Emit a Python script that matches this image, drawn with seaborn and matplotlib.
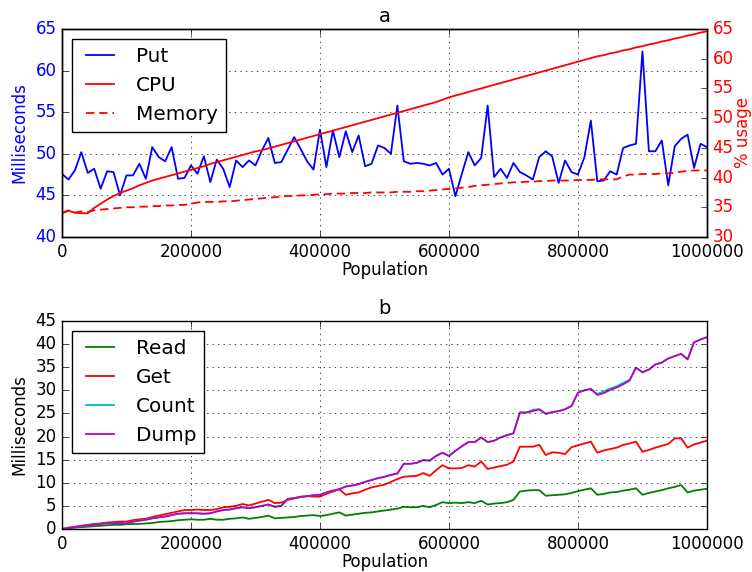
import numpy as np
import pandas as pd
import matplotlib
matplotlib.use("Agg")
import matplotlib.pyplot as plt
import seaborn as sns

plt.style.use("classic")
plt.rcParams["figure.facecolor"] = "white"
plt.rcParams["savefig.facecolor"] = "white"
plt.rcParams["font.family"] = ["DejaVu Sans"]

population = list(range(0, 1000001, 10000))

put_ms = [47.6, 46.9, 48.0, 50.2, 47.7, 48.2, 45.8, 47.9, 47.8, 45.0,
          47.4, 47.4, 48.8, 47.0, 50.8, 49.6, 49.1, 50.8, 47.0, 47.1,
          48.6, 47.6, 49.7, 46.6, 49.3, 48.2, 46.0, 49.2, 48.4, 49.2,
          48.6, 50.4, 51.9, 48.9, 49.0, 50.5, 52.0, 50.6, 49.1, 48.1,
          52.9, 48.4, 52.8, 49.6, 52.7, 50.2, 52.2, 48.5, 48.8, 51.0,
          50.7, 50.0, 55.8, 49.1, 48.8, 48.9, 48.8, 48.6, 48.9, 47.5,
          48.2, 44.9, 47.6, 50.2, 48.6, 49.5, 55.8, 47.2, 48.2, 47.1,
          48.9, 47.8, 47.4, 46.9, 49.6, 50.3, 49.7, 46.5, 49.2, 47.8,
          47.5, 49.6, 54.0, 46.7, 46.8, 47.9, 47.5, 50.7, 51.0, 51.2,
          62.3, 50.3, 50.3, 51.6, 46.2, 50.9, 51.8, 52.3, 48.3, 51.2,
          50.8]

cpu_pct = [34.0, 34.4, 34.1, 34.0, 34.0, 34.9, 35.6, 36.3, 36.9, 37.4,
           37.8, 38.2, 38.7, 39.1, 39.5, 39.8, 40.1, 40.4, 40.7, 41.0,
           41.3, 41.6, 41.9, 42.3, 42.6, 42.9, 43.2, 43.5, 43.8, 44.1,
           44.4, 44.6, 44.9, 45.2, 45.5, 45.8, 46.1, 46.4, 46.7, 47.0,
           47.3, 47.6, 47.9, 48.2, 48.5, 48.8, 49.1, 49.4, 49.7, 50.0,
           50.3, 50.6, 50.9, 51.2, 51.5, 51.8, 52.1, 52.4, 52.7, 53.1,
           53.5, 53.8, 54.1, 54.4, 54.7, 55.0, 55.3, 55.6, 55.9, 56.2,
           56.5, 56.8, 57.1, 57.4, 57.7, 58.0, 58.3, 58.6, 58.9, 59.2,
           59.5, 59.8, 60.1, 60.4, 60.6, 60.9, 61.1, 61.4, 61.6, 61.9,
           62.1, 62.4, 62.6, 62.9, 63.1, 63.4, 63.6, 63.9, 64.1, 64.4,
           64.6]

memory_pct = [34.0, 34.5, 34.1, 34.3, 34.2, 34.5, 34.6, 34.7, 34.8, 34.9,
              35.0, 35.0, 35.1, 35.1, 35.2, 35.2, 35.3, 35.3, 35.4, 35.4,
              35.6, 35.8, 35.9, 35.9, 35.9, 36.0, 36.0, 36.1, 36.2, 36.3,
              36.4, 36.5, 36.6, 36.7, 36.8, 36.9, 36.9, 37.0, 37.0, 37.1,
              37.2, 37.2, 37.3, 37.3, 37.3, 37.4, 37.4, 37.4, 37.5, 37.5,
              37.5, 37.5, 37.6, 37.6, 37.6, 37.7, 37.7, 37.8, 37.9, 38.0,
              38.1, 38.2, 38.3, 38.4, 38.6, 38.7, 38.8, 38.9, 39.0, 39.1,
              39.2, 39.2, 39.3, 39.3, 39.4, 39.4, 39.5, 39.5, 39.5, 39.5,
              39.6, 39.6, 39.6, 39.7, 39.7, 39.7, 39.7, 40.2, 40.5, 40.5,
              40.6, 40.6, 40.6, 40.7, 40.7, 40.8, 41.0, 41.1, 41.2, 41.2,
              41.2]

read_ms = [0.0, 0.1, 0.3, 0.4, 0.5, 0.6, 0.7, 0.8, 0.9, 0.9,
           1.0, 1.1, 1.1, 1.2, 1.3, 1.5, 1.6, 1.7, 1.9, 2.0,
           2.1, 2.0, 2.0, 2.2, 2.0, 2.0, 2.2, 2.3, 2.5, 2.2,
           2.4, 2.6, 2.9, 2.3, 2.4, 2.5, 2.6, 2.8, 2.9, 3.0,
           2.8, 3.0, 3.3, 3.6, 2.9, 3.1, 3.3, 3.5, 3.6, 3.8,
           4.0, 4.2, 4.4, 4.8, 4.7, 4.7, 5.0, 4.7, 5.2, 5.8,
           5.6, 5.7, 5.6, 5.8, 5.6, 6.1, 5.3, 5.5, 5.6, 5.8,
           6.3, 8.1, 8.3, 8.4, 8.4, 7.2, 7.3, 7.4, 7.5, 7.8,
           8.2, 8.5, 8.8, 7.4, 7.6, 7.9, 8.0, 8.3, 8.5, 8.8,
           7.4, 7.8, 8.1, 8.4, 8.8, 9.1, 9.5, 7.9, 8.3, 8.5,
           8.7]

get_ms = [0.0, 0.3, 0.5, 0.7, 0.9, 1.1, 1.2, 1.4, 1.5, 1.6,
          1.6, 1.9, 2.1, 2.2, 2.6, 2.9, 3.2, 3.5, 3.8, 4.1,
          4.1, 4.2, 4.1, 4.1, 4.3, 4.7, 4.8, 5.0, 5.4, 5.1,
          5.5, 5.9, 6.3, 5.6, 5.7, 6.3, 6.6, 7.0, 7.1, 7.0,
          7.0, 7.6, 8.1, 8.6, 7.4, 7.7, 7.9, 8.5, 9.0, 9.3,
          9.6, 10.2, 10.8, 11.3, 11.4, 11.5, 12.1, 11.5, 12.7, 13.8,
          13.1, 13.1, 13.2, 13.8, 13.5, 14.6, 13.0, 13.3, 13.6, 13.9,
          14.6, 17.8, 17.8, 17.8, 18.2, 16.0, 16.6, 16.5, 16.2, 17.7,
          18.1, 18.5, 18.9, 16.5, 17.0, 17.3, 17.6, 18.2, 18.5, 18.9,
          16.7, 17.1, 17.6, 18.0, 18.4, 19.6, 19.6, 17.6, 18.3, 18.7,
          19.1]

count_ms = [0.0, 0.2, 0.4, 0.6, 0.8, 0.9, 1.1, 1.2, 1.3, 1.3,
            1.2, 1.6, 1.8, 2.0, 2.3, 2.5, 2.7, 3.0, 3.3, 3.4,
            3.4, 3.4, 3.3, 3.4, 3.8, 4.1, 4.2, 4.5, 4.7, 4.5,
            4.7, 5.0, 5.3, 4.8, 5.0, 6.5, 6.7, 6.9, 7.1, 7.3,
            7.4, 7.9, 8.3, 8.6, 9.2, 9.4, 9.7, 10.2, 10.6, 11.0,
            11.3, 11.7, 12.0, 14.1, 14.1, 14.3, 14.9, 14.8, 15.8, 16.5,
            15.8, 16.9, 17.9, 18.8, 18.8, 19.8, 18.8, 19.1, 19.8, 20.3,
            20.7, 25.2, 25.2, 25.8, 25.9, 24.9, 25.3, 25.5, 25.9, 26.6,
            29.5, 30.0, 30.3, 29.2, 29.8, 30.4, 30.9, 31.6, 32.3, 34.9,
            33.9, 34.5, 35.6, 36.0, 36.9, 37.4, 37.9, 36.7, 40.4, 41.0,
            41.5]

dump_ms = [0.0, 0.2, 0.4, 0.6, 0.8, 0.9, 1.1, 1.2, 1.3, 1.3,
           1.2, 1.6, 1.8, 2.0, 2.3, 2.5, 2.7, 3.0, 3.3, 3.4,
           3.4, 3.4, 3.3, 3.4, 3.8, 4.1, 4.2, 4.5, 4.7, 4.5,
           4.7, 5.0, 5.3, 4.8, 5.0, 6.5, 6.7, 6.9, 7.1, 7.3,
           7.4, 7.9, 8.3, 8.6, 9.2, 9.4, 9.7, 10.2, 10.6, 11.0,
           11.3, 11.7, 12.0, 14.1, 14.1, 14.3, 14.9, 14.8, 15.8, 16.5,
           15.8, 16.9, 17.9, 18.8, 18.8, 19.8, 18.8, 19.1, 19.8, 20.3,
           20.7, 25.2, 25.2, 25.5, 25.9, 24.9, 25.3, 25.5, 25.9, 26.6,
           29.5, 30.0, 30.3, 29.0, 29.4, 30.1, 30.6, 31.3, 32.1, 34.9,
           33.9, 34.5, 35.6, 36.0, 36.9, 37.4, 37.9, 36.7, 40.4, 41.0,
           41.5]

x_ticks = [0, 200000, 400000, 600000, 800000, 1000000]

df = pd.DataFrame({"Population": population, "Put": put_ms, "CPU": cpu_pct,
                   "Memory": memory_pct, "Read": read_ms, "Get": get_ms,
                   "Count": count_ms, "Dump": dump_ms})

LW = 1.3
fig = plt.figure(figsize=(7.52, 5.72), dpi=100)
ax1 = fig.add_axes([0.0824, 0.5857, 0.8577, 0.3636])
ax3 = fig.add_axes([0.0824, 0.0752, 0.8577, 0.3636])

# --- top panel ---
sns.lineplot(data=df, x="Population", y="Put", ax=ax1, color="b", lw=LW, label="Put", legend=False)
ax2 = ax1.twinx()
sns.lineplot(data=df, x="Population", y="CPU", ax=ax2, color="r", lw=LW, label="CPU", legend=False)
sns.lineplot(data=df, x="Population", y="Memory", ax=ax2, color="r", lw=LW,
             linestyle=(0, (6, 3.5)), label="Memory", legend=False)

ax1.set_xlim(0, 1000000)
ax1.set_ylim(40, 65)
ax2.set_ylim(30, 65)
ax1.set_xticks(x_ticks)
ax1.ticklabel_format(axis="x", style="plain", useOffset=False)
ax1.set_ylabel("Milliseconds", color="b")
ax2.set_ylabel("% usage", color="r", labelpad=0)
ax1.tick_params(axis="y", colors="k", labelcolor="b")
ax2.tick_params(axis="y", labelcolor="r")
ax1.set_xlabel("Population", labelpad=0)
ax1.set_title("a", fontsize=14)
ax1.grid(True, color="k", linestyle=":", linewidth=0.5)
h1, l1 = ax1.get_legend_handles_labels()
h2, l2 = ax2.get_legend_handles_labels()
leg = ax2.legend(h1 + h2, l1 + l2, loc="upper left", fontsize=14.4, frameon=True, fancybox=False)
leg.get_frame().set_edgecolor("k")

# --- bottom panel ---
sns.lineplot(data=df, x="Population", y="Read", ax=ax3, color="g", lw=LW, label="Read")
sns.lineplot(data=df, x="Population", y="Get", ax=ax3, color="r", lw=LW, label="Get")
sns.lineplot(data=df, x="Population", y="Count", ax=ax3, color="c", lw=LW, label="Count")
sns.lineplot(data=df, x="Population", y="Dump", ax=ax3, color="m", lw=LW, label="Dump")
ax3.set_xlim(0, 1000000)
ax3.set_ylim(0, 45)
ax3.set_xticks(x_ticks)
ax3.ticklabel_format(axis="x", style="plain", useOffset=False)
ax3.set_ylabel("Milliseconds")
ax3.set_xlabel("Population", labelpad=0)
ax3.set_title("b", fontsize=14)
ax3.grid(True, color="k", linestyle=":", linewidth=0.5)
leg3 = ax3.legend(loc="upper left", fontsize=14.4, frameon=True, fancybox=False)
leg3.get_frame().set_edgecolor("k")

fig.savefig("out.png", dpi=100)
